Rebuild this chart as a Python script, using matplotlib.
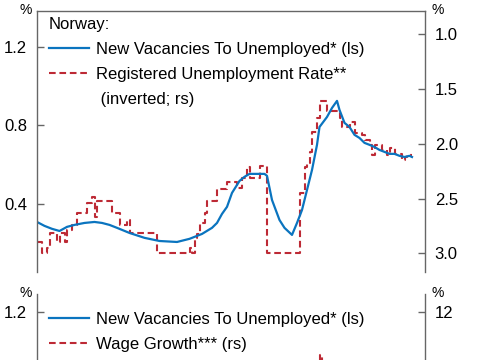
import matplotlib.pyplot as plt
from matplotlib.lines import Line2D

plt.rcParams['font.family'] = ['Liberation Sans', 'DejaVu Sans']

# months since start of sample (roughly Nov 2012), monthly data
vac_month = [0, 3, 6, 9, 12, 15, 19, 23, 26, 29, 32, 37, 43, 49, 56, 61, 66, 70, 72,
             74, 76, 78, 81, 83, 85, 88, 91, 92, 94, 97, 99, 102, 104, 106, 108, 110,
             112, 113, 116, 118, 120, 121, 123, 125, 127, 129, 131, 133, 135, 137,
             139, 141, 143, 145, 147, 149, 150]
vac_ratio = [0.308, 0.288, 0.273, 0.262, 0.283, 0.293, 0.303, 0.308, 0.303, 0.293,
             0.278, 0.252, 0.227, 0.211, 0.206, 0.222, 0.247, 0.278, 0.303, 0.349,
             0.385, 0.456, 0.517, 0.538, 0.553, 0.553, 0.553, 0.543, 0.420, 0.318,
             0.278, 0.242, 0.303, 0.369, 0.471, 0.573, 0.701, 0.792, 0.843, 0.889,
             0.925, 0.879, 0.813, 0.792, 0.752, 0.736, 0.711, 0.701, 0.690, 0.675,
             0.665, 0.655, 0.655, 0.645, 0.639, 0.645, 0.639]

# registered unemployment rate, % (values above 3.0 are capped at 3.0)
unemp_month = [0, 2, 4, 5, 8, 9, 11, 12, 14, 16, 20, 22, 23, 24, 30, 33, 36, 37, 48,
               61, 62, 63, 64, 65, 67, 68, 72, 76, 80, 82, 84, 85, 89, 92, 105, 107,
               108, 109, 110, 112, 113, 116, 121, 122, 125, 127, 130, 131, 133, 134,
               135, 138, 140, 141, 143, 146, 147, 148, 150]
unemp_rate = [2.90, 3.00, 2.95, 2.81, 2.90, 2.81, 2.90, 2.79, 2.74, 2.63, 2.54, 2.49,
              2.67, 2.52, 2.63, 2.74, 2.70, 2.81, 3.00, 2.95, 3.00, 2.86, 2.82, 2.72,
              2.63, 2.52, 2.41, 2.35, 2.40, 2.31, 2.21, 2.31, 2.20, 3.00, 2.45, 2.21,
              2.18, 2.08, 1.89, 1.77, 1.61, 1.70, 1.77, 1.85, 1.80, 1.90, 1.92, 1.97,
              2.01, 2.10, 2.01, 2.06, 2.10, 2.04, 2.09, 2.15, 2.12, 2.10, 2.10]

# wage growth, % (only the top of the 2022 peak is inside the crop)
wage_month = [0, 12, 24, 36, 48, 60, 72, 84, 92, 100, 106, 109, 111, 112, 113, 114,
              116, 120, 128, 136, 144, 150]
wage_growth = [3.8, 3.2, 2.8, 2.2, 2.0, 2.6, 3.0, 3.4, 3.0, 3.8, 5.2, 6.8, 8.4, 9.2,
               9.8, 8.8, 8.0, 7.2, 6.0, 5.5, 5.0, 5.0]

BLUE = '#0a74bf'
RED = '#bd2a35'
GREY = '#666666'
DASH = (3.2, 1.8)
W, H = 485, 360

fig = plt.figure(figsize=(W / 100, H / 100), dpi=100)


def panel(top, bottom, lylim, rylim, lticks, rticks, rfmt, top_spine):
    ax = fig.add_axes([37 / W, 1 - bottom / H, 388 / W, (bottom - top) / H])
    ax2 = ax.twinx()
    ax.set_zorder(ax2.get_zorder() + 1)
    ax.patch.set_visible(False)
    for a in (ax, ax2):
        a.set_xlim(0, 155.2)
        a.set_xticks([])
        for s in a.spines.values():
            s.set_visible(False)
    for side in ['left', 'right'] + (['top'] if top_spine else []):
        ax.spines[side].set_visible(True)
        ax.spines[side].set_color(GREY)
        ax.spines[side].set_linewidth(1.0)
    ax.set_ylim(*lylim)
    ax2.set_ylim(*rylim)
    ax.set_yticks(lticks)
    ax.set_yticklabels([f'{t:.1f}' for t in lticks])
    ax2.set_yticks(rticks)
    ax2.set_yticklabels([rfmt.format(t) for t in rticks])
    for a in (ax, ax2):
        a.tick_params(axis='y', direction='in', length=5, width=1, color=GREY,
                      labelcolor='black', labelsize=12, pad=7)
    ax.annotate('%', xy=(0, 1), xycoords='axes fraction', xytext=(-5, 1),
                textcoords='offset pixels', ha='right', va='center', fontsize=10)
    ax.annotate('%', xy=(1, 1), xycoords='axes fraction', xytext=(7, 1),
                textcoords='offset pixels', ha='left', va='center', fontsize=10)
    return ax, ax2


# top panel
ax, ax2 = panel(11, 272, (0.053, 1.383), (3.17, 0.79), [0.4, 0.8, 1.2],
                [1.0, 1.5, 2.0, 2.5, 3.0], '{:.1f}', True)
ax2.plot(unemp_month, unemp_rate, color=RED, lw=1.5, dashes=DASH, drawstyle='steps-post')
ax.plot(vac_month, vac_ratio, color=BLUE, lw=1.6)
handles = [Line2D([], [], color=BLUE, lw=1.6),
           Line2D([], [], color=RED, lw=1.5, dashes=DASH),
           Line2D([], [], color='none')]
labels = ['New Vacancies To Unemployed* (ls)', 'Registered Unemployment Rate**',
          ' (inverted; rs)']
ax.legend(handles, labels, title='Norway:', loc='upper left',
          bbox_to_anchor=(49 / W, 1 - 17 / H), bbox_transform=fig.transFigure,
          frameon=False, fontsize=12, title_fontsize=12, handlelength=2.4,
          handletextpad=0.45, labelspacing=0.6, borderpad=0, borderaxespad=0,
          alignment='left')

# bottom panel (mostly below the crop, so only its top ticks are set)
bx, bx2 = panel(294, 555, (-0.038, 1.292), (-0.38, 12.92), [1.2], [12],
                '{:.0f}', False)
bx2.plot(wage_month, wage_growth, color=RED, lw=1.5, dashes=DASH, drawstyle='steps-post')
bx.plot(vac_month, vac_ratio, color=BLUE, lw=1.6)
handles = [Line2D([], [], color=BLUE, lw=1.6),
           Line2D([], [], color=RED, lw=1.5, dashes=DASH)]
labels = ['New Vacancies To Unemployed* (ls)', 'Wage Growth*** (rs)']
bx.legend(handles, labels, loc='upper left',
          bbox_to_anchor=(49 / W, 1 - 312 / H), bbox_transform=fig.transFigure,
          frameon=False, fontsize=12, handlelength=2.4, handletextpad=0.45,
          labelspacing=0.6, borderpad=0, borderaxespad=0)

fig.savefig('out.png', dpi=100)
